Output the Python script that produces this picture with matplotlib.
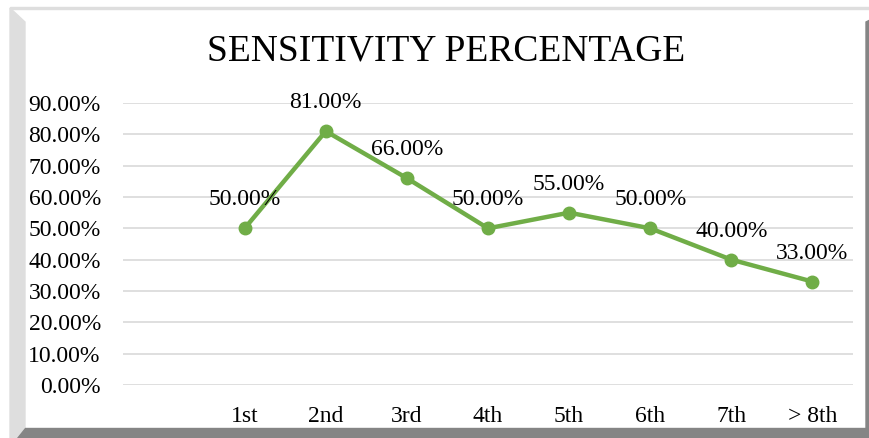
import matplotlib
matplotlib.use("Agg")
import matplotlib.pyplot as plt
from matplotlib.patches import Polygon
from matplotlib.ticker import FuncFormatter

plt.rcParams['font.family'] = ['Liberation Serif', 'DejaVu Serif']

categories = ['1st', '2nd', '3rd', '4th', '5th', '6th', '7th', '> 8th']
sensitivity = [50.0, 81.0, 66.0, 50.0, 55.0, 50.0, 40.0, 33.0]
y_ticks = [0, 10, 20, 30, 40, 50, 60, 70, 80, 90]

W, H = 870, 438
fig = plt.figure(figsize=(W / 100, H / 100), dpi=100)


def px(points):
    # pixel coords (origin top-left) -> figure fraction
    return [(x / W, 1 - y / H) for x, y in points]


# bevelled frame like the Excel chart border
light = '#DEDEDE'
dark = '#858585'
fig.patches.append(Polygon(px([(10, 7), (870, 7), (870, 9), (10, 9)]),
                           closed=True, color=light, transform=fig.transFigure))
fig.patches.append(Polygon(px([(10, 8), (25, 22), (25, 428), (17, 438), (10, 438)]),
                           closed=True, color=light, transform=fig.transFigure))
fig.patches.append(Polygon(px([(25, 428), (870, 428), (870, 438), (17, 438)]),
                           closed=True, color=dark, transform=fig.transFigure))
fig.patches.append(Polygon(px([(866, 22), (870, 20), (870, 438), (866, 438)]),
                           closed=True, color=dark, transform=fig.transFigure))

ax = fig.add_axes([123 / W, 53 / H, 730 / W, 282 / H])
x = list(range(len(categories)))
ax.plot(x, sensitivity, color='#70AD47', lw=3.2, marker='o', ms=9, zorder=3)

for xi, v in zip(x, sensitivity):
    ax.annotate(f'{v:.2f}%', (xi, v), xytext=(0, 20.5), textcoords='offset points',
                ha='center', va='center', fontsize=17)

ax.set_xlim(-1.5, len(categories) - 0.5)
ax.set_ylim(0, 90)
ax.set_yticks(y_ticks)
ax.yaxis.set_major_formatter(FuncFormatter(lambda v, p: f'{v:.2f}%'))
ax.set_xticks(x)
ax.set_xticklabels(categories)
ax.tick_params(axis='both', length=0, labelsize=17)
ax.tick_params(axis='y', pad=16)
ax.tick_params(axis='x', pad=15)
ax.grid(axis='y', color='#D9D9D9', lw=1.2)
ax.set_axisbelow(True)
for s in ax.spines.values():
    s.set_visible(False)

fig.text(446 / W, 1 - 51 / H, 'SENSITIVITY PERCENTAGE', ha='center', va='center',
         fontsize=27)

fig.savefig('out.png', dpi=100)
